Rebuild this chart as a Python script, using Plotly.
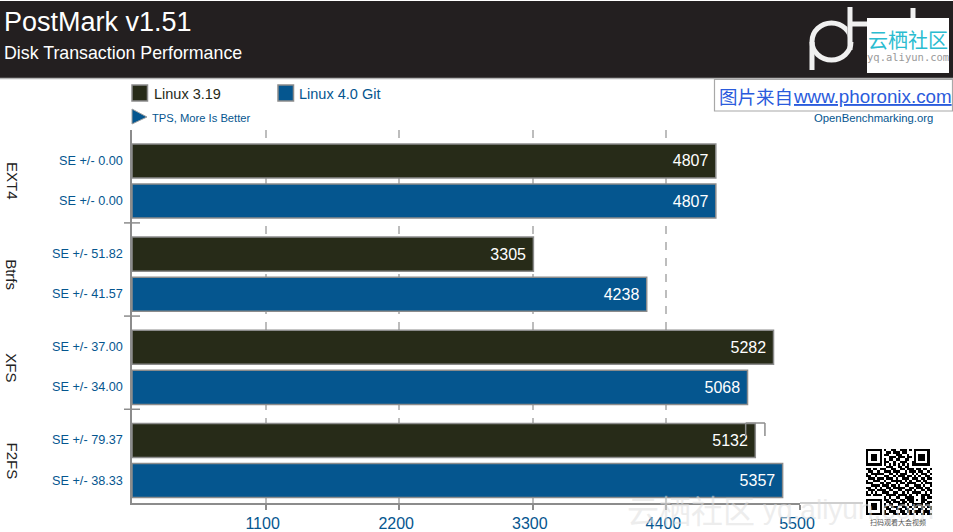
import plotly.graph_objects as go

W, H = 953, 532

categories = ["EXT4", "Btrfs", "XFS", "F2FS"]
series_a_name = "Linux 3.19"
series_b_name = "Linux 4.0 Git"
series_a = [4807, 3305, 5282, 5132]
series_b = [4807, 4238, 5068, 5357]
se_a = [0.00, 51.82, 37.00, 79.37]
se_b = [0.00, 41.57, 34.00, 38.33]
x_ticks = [1100, 2200, 3300, 4400, 5500]

QR_ROWS = [
    "11111110100110011101011111110",
    "10000010011011101100010000010",
    "10111010110001110010010111010",
    "10111010001110111011010111010",
    "10111010101101100110010111010",
    "10000010110010011100110000010",
    "11111110101010101010111111110",
    "00000000011100110110000000000",
    "11011011100110011011101101101",
    "01100100111011100101110110010",
    "10111111001101011100101011101",
    "11001000110010111011010100110",
    "01110111011101001110111011011",
    "10011100100111110101001101100",
    "11100011011001011011110010111",
    "00111101110110100110011101001",
    "11001010011011111001101110110",
    "01110111101100110111010011011",
    "10101001110011001010111100101",
    "11011110011110111101001011110",
    "00000000101001100111100011011",
    "11111110110110011011101011100",
    "10000010011011101101100011011",
    "10111010101100111010111110110",
    "10111010110111001101011011011",
    "10111010011001110110100110101",
    "10000010101110011011011101110",
    "11111110110011101101101011011",
]

DARK, BLUE, EDGE = "#272b18", "#05568f", "#8c8c8c"
FONT = "Liberation Sans"


def px(x):
    return x / W


def py(y):
    return 1 - y / H


fig = go.Figure()
for name, vals, col in [(series_a_name, series_a, DARK), (series_b_name, series_b, BLUE)]:
    fig.add_trace(go.Bar(
        name=name, y=categories, x=vals, orientation="h",
        marker=dict(color=col, line=dict(color=EDGE, width=1.5)),
        text=[str(v) + "\u00a0" for v in vals], textposition="inside", insidetextanchor="end",
        textangle=0, textfont=dict(color="white", size=16, family=FONT),
        constraintext="none", cliponaxis=False, hoverinfo="skip", showlegend=False,
    ))

fig.add_trace(go.Heatmap(
    z=[[int(c) for c in r] for r in QR_ROWS], xaxis="x2", yaxis="y2",
    colorscale=[[0, "white"], [1, "black"]], showscale=False, hoverinfo="skip",
))

shapes, notes = [], []


def rect(x0, y0, x1, y1, fill, line=None, lw=1):
    shapes.append(dict(type="rect", xref="paper", yref="paper", x0=px(x0), x1=px(x1), y0=py(y0), y1=py(y1),
                       fillcolor=fill, line=dict(color=line or fill, width=lw if line else 0)))


def seg(x0, y0, x1, y1, col=EDGE, lw=1.5):
    shapes.append(dict(type="line", xref="paper", yref="paper", x0=px(x0), x1=px(x1), y0=py(y0), y1=py(y1),
                       line=dict(color=col, width=lw)))


def label(x, y, text, size, col, anchor="left", family=FONT, angle=0, **kw):
    notes.append(dict(xref="paper", yref="paper", x=px(x), y=py(y), text=text, showarrow=False,
                      xanchor=anchor, yanchor="middle", borderpad=0, textangle=angle,
                      font=dict(size=size, color=col, family=family, **kw)))


# header band and logo
rect(0, 1, W, 78, "#231f20")
seg(0, 78.5, W, 78.5, "#b5b5b5", 1.5)
shapes.append(dict(type="circle", xref="paper", yref="paper", x0=px(812), x1=px(851), y0=py(60), y1=py(23),
                   line=dict(color="#f0f0f0", width=5)))
seg(812, 42, 812, 70, "#f0f0f0", 5)
seg(851, 6, 851, 42, "#231f20", 7)
seg(850, 7, 850, 50, "#f0f0f0", 5)
seg(850, 24, 880, 24, "#f0f0f0", 5)
seg(913, 8, 913, 30, "#f0f0f0", 5)
rect(867, 18, 949, 73, "white")
label(908, 39, "云栖社区", 20, "#2bbcd0", "center", "Noto Sans CJK SC")
label(908, 57, "yq.aliyun.com", 10.5, "#9a9a9a", "center", "DejaVu Sans Mono")
label(3, 22, "PostMark v1.51", 27, "white")
label(3, 53, "Disk Transaction Performance", 17.8, "white")

# legend row
rect(132, 85, 147.5, 101, DARK, EDGE, 1.5)
rect(278, 85, 293.5, 101, BLUE, EDGE, 1.5)
label(153, 94, series_a_name, 14.5, DARK)
label(298, 94, series_b_name, 14.5, BLUE)
shapes.append(dict(type="path", xref="paper", yref="paper",
                   path=f"M {px(132)} {py(109)} L {px(147)} {py(117)} L {px(132)} {py(124)} Z",
                   fillcolor=BLUE, line=dict(color="#a0a0a0", width=1)))
label(151, 118, "TPS, More Is Better", 11.2, BLUE)
label(873, 118, "OpenBenchmarking.org", 11.3, BLUE, "center")

# source box
rect(714.5, 79.5, 952.5, 111, "white", "#a8a8a8", 1.2)
label(718, 96, "图片来自", 18.5, "#2a5bdc", "left", "Noto Sans CJK SC")
label(792, 96, "www.phoronix.com", 18.8, "#2a5bdc", lineposition="under")

# axis extension and error bracket
seg(800, 503, 863, 503, "#a0a0a0", 1.2)
k = 3
lo, hi = series_a[k] - se_a[k], series_a[k] + se_a[k]
for x0, x1, y0, y1 in [(lo, hi, 423, 423), (lo, lo, 423, 436), (hi, hi, 423, 436)]:
    shapes.append(dict(type="line", xref="x", yref="paper", x0=x0, x1=x1, y0=py(y0), y1=py(y1),
                       line=dict(color=EDGE, width=1.5)))

# group separators
for i in range(len(categories) - 1):
    shapes.append(dict(type="line", xref="paper", yref="y", x0=px(124), x1=px(140), y0=i + 0.45, y1=i + 0.45,
                       line=dict(color=EDGE, width=1.5)))

# per-bar text
OFF = 0.215
for i, c in enumerate(categories):
    notes.append(dict(xref="paper", yref="y", x=px(12), y=i, text=c, showarrow=False, textangle=90,
                      xanchor="center", yanchor="middle", font=dict(size=15, color="#222222", family=FONT)))
    for sign, errs in [(-1, se_a), (1, se_b)]:
        notes.append(dict(xref="paper", yref="y", x=px(124), y=i + sign * OFF, text=f"SE +/- {errs[i]:.2f}",
                          showarrow=False, xanchor="right", yanchor="middle", borderpad=0,
                          font=dict(size=12.7, color=BLUE, family=FONT)))

# faint site watermark and QR caption
label(898, 522, "扫码观看大会视频", 7, "#555555", "center", "Noto Sans CJK SC")
label(626, 509, "云栖社区", 32, "rgba(222,222,222,0.55)", "left", "Noto Sans CJK SC")
label(762, 509, "yq.aliyun.com", 28, "rgba(222,222,222,0.55)", "left", "Liberation Sans")

fig.update_layout(
    width=W, height=H, autosize=False, margin=dict(l=0, r=0, t=0, b=0), paper_bgcolor="white", plot_bgcolor="white",
    barmode="group", bargap=0.14, bargroupgap=0.15, shapes=shapes, annotations=notes,
    font=dict(family=FONT),
    xaxis=dict(domain=[px(132), px(800)], range=[0, 5500], tickmode="array", tickvals=x_ticks, automargin=False,
               ticktext=[str(t) for t in x_ticks], ticks="outside", ticklen=5, tickwidth=1.5, tickcolor=EDGE,
               tickfont=dict(size=16, color=BLUE, family=FONT), ticklabelshift=-3,
               showgrid=True, gridcolor="#bdbdbd", gridwidth=1.5,
               griddash="8px,8px", showline=True, linecolor=EDGE, linewidth=1.5, zeroline=False, anchor="y",
               fixedrange=True),
    yaxis=dict(domain=[py(503), py(130)], range=[3.456, -0.547], type="category", showticklabels=False,
               automargin=False, ticks="", showgrid=False, showline=True, linecolor=EDGE, linewidth=1.5,
               zeroline=False, anchor="x", fixedrange=True),
    xaxis2=dict(domain=[px(866), px(932)], visible=False, anchor="y2", fixedrange=True, automargin=False),
    yaxis2=dict(domain=[py(515), py(449)], visible=False, anchor="x2", autorange="reversed", fixedrange=True,
                automargin=False),
)

POST = "document.documentElement.style.margin='0';document.body.style.margin='0';document.body.style.overflow='hidden';"

fig.write_html("out.html", config={"displayModeBar": False}, post_script=POST)
